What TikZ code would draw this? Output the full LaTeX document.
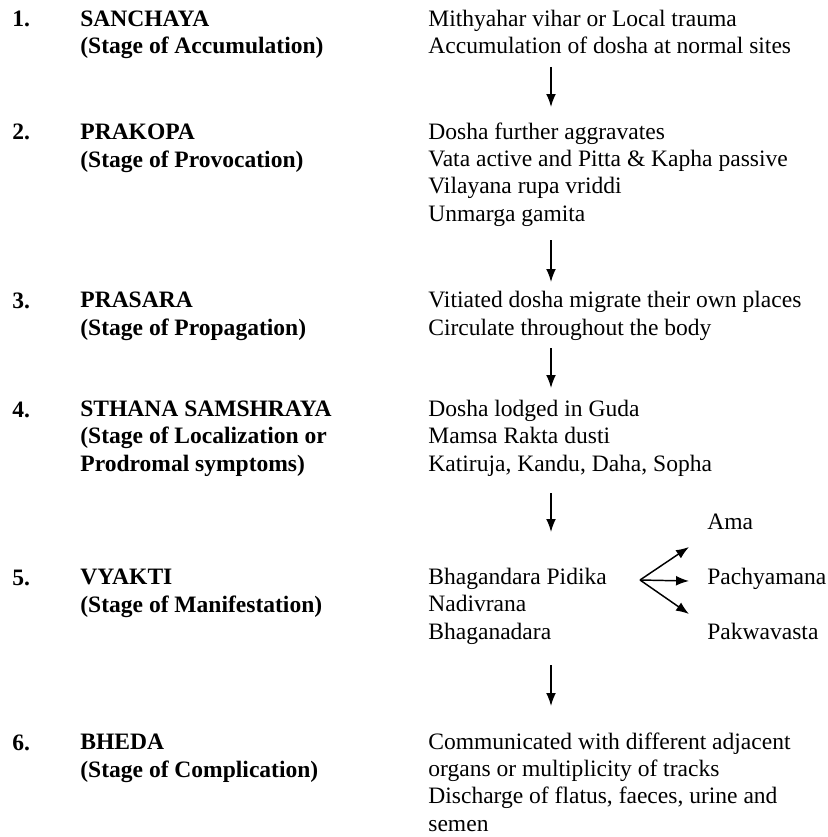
\documentclass[tikz,border=0pt]{standalone}
\usepackage{fontspec}
\setmainfont{Liberation Serif}
\usetikzlibrary{calc,positioning,arrows.meta}

\begin{document}
\begin{tikzpicture}[x=0.51pt,y=-0.51pt,>={Latex[length=6.6pt,width=5pt]}]
  \tikzset{
    txt/.style={anchor=base west,inner sep=0pt,align=left,font=\fontsize{12}{13.8}\selectfont},
    stage/.style={txt,font=\fontsize{12}{13.8}\selectfont\bfseries},
    flow/.style={->,line width=0.75pt},
  }
  \useasboundingbox (0,0) rectangle (827,837);

  % stage numbers and names (multi-line nodes sit on their last line)
  \node[stage] (n1) at (12,27) {1.};  \node[stage] (s1) at (80,54) {SANCHAYA\\(Stage of Accumulation)};
  \node[stage] (n2) at (12,140) {2.}; \node[stage] (s2) at (80,167) {PRAKOPA\\(Stage of Provocation)};
  \node[stage] (n3) at (12,308) {3.}; \node[stage] (s3) at (80,335) {PRASARA\\(Stage of Propagation)};
  \node[stage] (n4) at (12,417) {4.}; \node[stage] (s4) at (80,471) {STHANA SAMSHRAYA\\(Stage of Localization or\\Prodromal symptoms)};
  \node[stage] (n5) at (12,585) {5.}; \node[stage] (s5) at (80,612) {VYAKTI\\(Stage of Manifestation)};
  \node[stage] (n6) at (12,750) {6.}; \node[stage] (s6) at (80,777) {BHEDA\\(Stage of Complication)};

  % what happens at each stage
  \node[txt] (c1) at (428,54) {Mithyahar vihar or Local trauma\\Accumulation of dosha at normal sites};
  \node[txt] (c2) at (428,221) {Dosha further aggravates\\Vata active and Pitta \& Kapha passive\\Vilayana rupa vriddi\\Unmarga gamita};
  \node[txt] (c3) at (428,335) {Vitiated dosha migrate their own places\\Circulate throughout the body};
  \node[txt] (c4) at (428,471) {Dosha lodged in Guda\\Mamsa Rakta dusti\\Katiruja, Kandu, Daha, Sopha};
  \node[txt] (c5) at (428,639) {Bhagandara Pidika\\Nadivrana\\Bhaganadara};
  \node[txt] (c6) at (428,831) {Communicated with different adjacent\\organs or multiplicity of tracks\\Discharge of flatus, faeces, urine and\\semen};

  \node[txt] (ama) at (707,529) {Ama};
  \node[txt] (pachya) at (707,584) {Pachyamana};
  \node[txt] (pakwa) at (707,639) {Pakwavasta};

  % arrows down the right column
  \coordinate (a1) at (551,67);  \coordinate (b1) at (551,107);
  \coordinate (a2) at (551,240); \coordinate (b2) at (551,282);
  \coordinate (a3) at (551,348); \coordinate (b3) at (551,388);
  \coordinate (a4) at (551,493); \coordinate (b4) at (551,532);
  \coordinate (a5) at (551,665); \coordinate (b5) at (551,706);
  \foreach \i in {1,...,5} \draw[flow] (a\i) -- (b\i);

  % fork to the three kinds
  \coordinate (fork) at (640,580);
  \coordinate (tipama) at (689,547);
  \coordinate (tippachya) at (689,581);
  \coordinate (tippakwa) at (689,614);
  \draw[flow] (fork) -- (tipama);
  \draw[flow] (fork) -- (tippachya);
  \draw[flow] (fork) -- (tippakwa);
\end{tikzpicture}
\end{document}
